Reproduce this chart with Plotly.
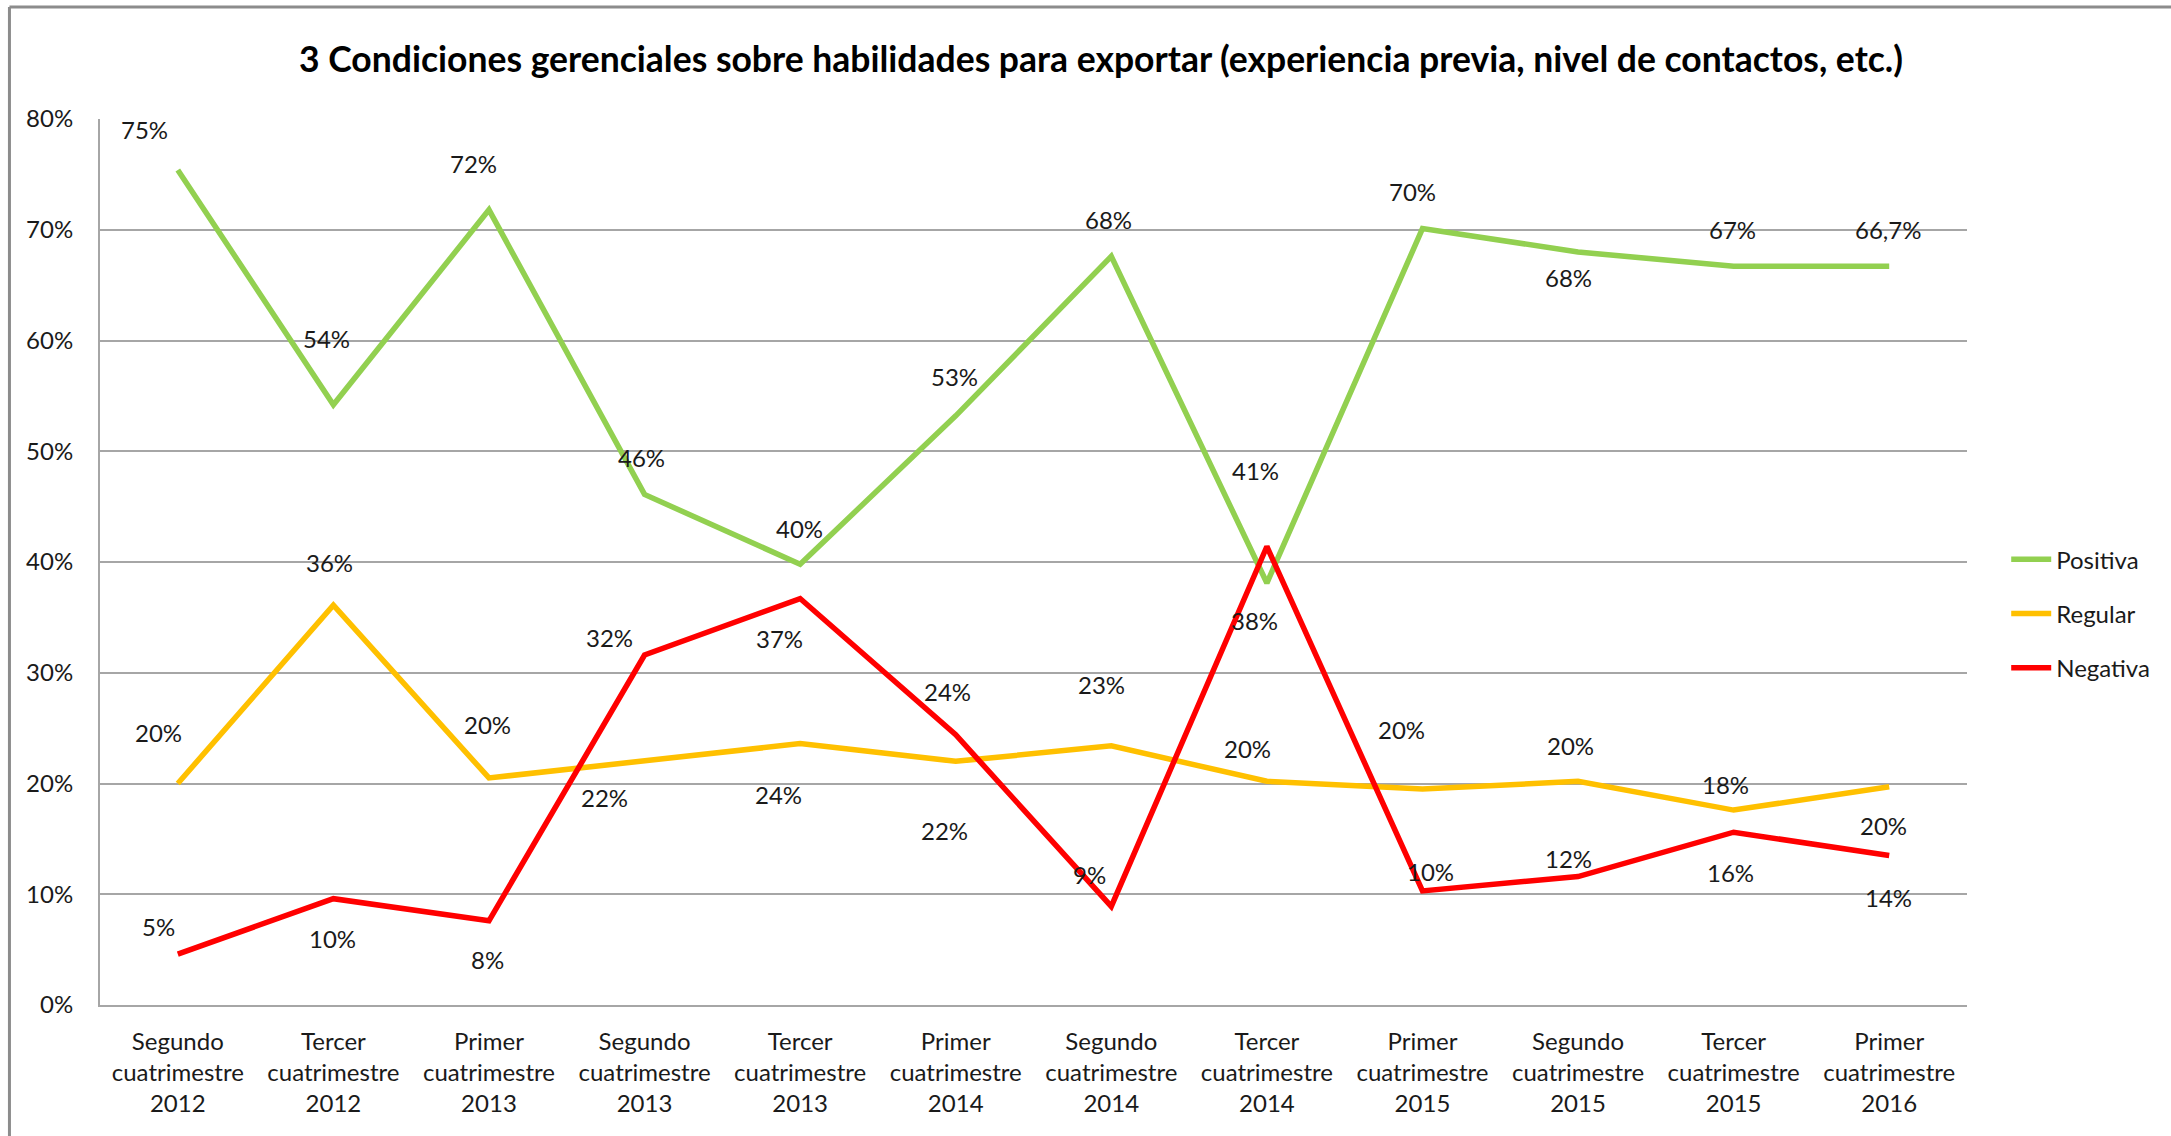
import plotly.graph_objects as go

# Periods (x axis categories)
periodos = [
    "Segundo<br>cuatrimestre<br>2012",
    "Tercer<br>cuatrimestre<br>2012",
    "Primer<br>cuatrimestre<br>2013",
    "Segundo<br>cuatrimestre<br>2013",
    "Tercer<br>cuatrimestre<br>2013",
    "Primer<br>cuatrimestre<br>2014",
    "Segundo<br>cuatrimestre<br>2014",
    "Tercer<br>cuatrimestre<br>2014",
    "Primer<br>cuatrimestre<br>2015",
    "Segundo<br>cuatrimestre<br>2015",
    "Tercer<br>cuatrimestre<br>2015",
    "Primer<br>cuatrimestre<br>2016",
]

# Share of answers per period (fractions)
positiva = [0.754, 0.542, 0.718, 0.461, 0.398, 0.532, 0.676, 0.381, 0.701, 0.680, 0.667, 0.667]
regular = [0.200, 0.361, 0.205, 0.221, 0.236, 0.220, 0.234, 0.202, 0.195, 0.202, 0.176, 0.197]
negativa = [0.046, 0.096, 0.076, 0.316, 0.367, 0.244, 0.089, 0.414, 0.103, 0.116, 0.156, 0.135]

# Decimals shown in each data label
dec_positiva = [0, 0, 0, 0, 0, 0, 0, 0, 0, 0, 0, 1]
dec_regular = [0] * 12
dec_negativa = [0] * 12

# Label offsets in pixels (dx, dy; dy positive = downwards)
off_positiva = [(-33, -40), (-7, -66), (-15, -46), (-3, -37), (-1, -36), (-1, -39),
                (-3, -37), (-12, 37), (-10, -37), (-10, 26), (-1, -37), (-1, -37)]
off_regular = [(-19, -51), (-4, -43), (-1, -53), (-40, 37), (-22, 51), (-11, 69),
               (-10, -61), (-19, -33), (-21, -60), (-8, -36), (-8, -26), (-6, 39)]
off_negativa = [(-19, -28), (-1, 40), (-1, 39), (-35, -18), (-21, 40), (-8, -43),
                (-22, -32), (-11, -76), (8, -19), (-10, -18), (-3, 40), (-1, 42)]

FONT = "Lato, Roboto, sans-serif"
TXT = "#1a1a1a"
GRID = "#a6a6a6"
FS = 24


def fmt(v, d):
    s = f"{v * 100:.{d}f}%"
    return s.replace(".", ",")


series = [
    ("Positiva", positiva, "#92d050", dec_positiva, off_positiva),
    ("Regular", regular, "#ffc000", dec_regular, off_regular),
    ("Negativa", negativa, "#ff0000", dec_negativa, off_negativa),
]

fig = go.Figure()
annotations = []
for name, vals, color, decs, offs in series:
    fig.add_trace(go.Scatter(
        x=periodos, y=vals, mode="lines", name=name,
        line=dict(color=color, width=5.5),
        legendgroup=name, hoverinfo="skip",
    ))
    for cat, v, d, (dx, dy) in zip(periodos, vals, decs, offs):
        annotations.append(dict(
            x=cat, y=v, xref="x", yref="y", text=fmt(v, d), showarrow=False,
            xshift=dx, yshift=-dy, font=dict(family=FONT, size=FS, color=TXT),
        ))

annotations.append(dict(
    text="<b>3 Condiciones gerenciales sobre habilidades para exportar (experiencia previa, nivel de contactos, etc.)</b>",
    xref="paper", yref="paper", x=0.536, y=1.068, showarrow=False,
    font=dict(family=FONT, size=35.5, color="#000000"), xanchor="center", yanchor="middle",
))

fig.update_layout(
    width=2171, height=1136,
    margin=dict(l=100, r=204, t=119, b=131),
    paper_bgcolor="white", plot_bgcolor="white",
    font=dict(family=FONT, size=FS, color=TXT),
    showlegend=True,
    legend=dict(
        x=1.021, y=0.528, xanchor="left", yanchor="top",
        font=dict(family=FONT, size=FS, color=TXT),
        traceorder="grouped", tracegroupgap=20,
        bgcolor="rgba(0,0,0,0)", itemwidth=40,
    ),
    annotations=annotations,
    shapes=[
        dict(type="line", xref="paper", yref="paper", x0=-0.0485, x1=1.12, y0=1.1265, y1=1.1265,
             line=dict(color="#8c8c8c", width=3)),
        dict(type="line", xref="paper", yref="paper", x0=-0.0485, x1=-0.0485, y0=-0.2, y1=1.1265,
             line=dict(color="#8c8c8c", width=3)),
    ],
)

fig.update_xaxes(
    type="category", range=[-0.5, 11.5], automargin=False, tickangle=0,
    showgrid=False, showline=True, linecolor=GRID, linewidth=2,
    ticks="", ticklabelstandoff=14,
    tickfont=dict(family=FONT, size=FS, color=TXT),
)
fig.update_yaxes(
    range=[0, 0.8], dtick=0.1, tickformat=".0%", automargin=False,
    showgrid=True, gridcolor=GRID, gridwidth=2,
    showline=True, linecolor=GRID, linewidth=2,
    zeroline=False, ticks="", ticklabelstandoff=20,
    tickfont=dict(family=FONT, size=FS, color=TXT),
)

fig.write_html("out.html")
